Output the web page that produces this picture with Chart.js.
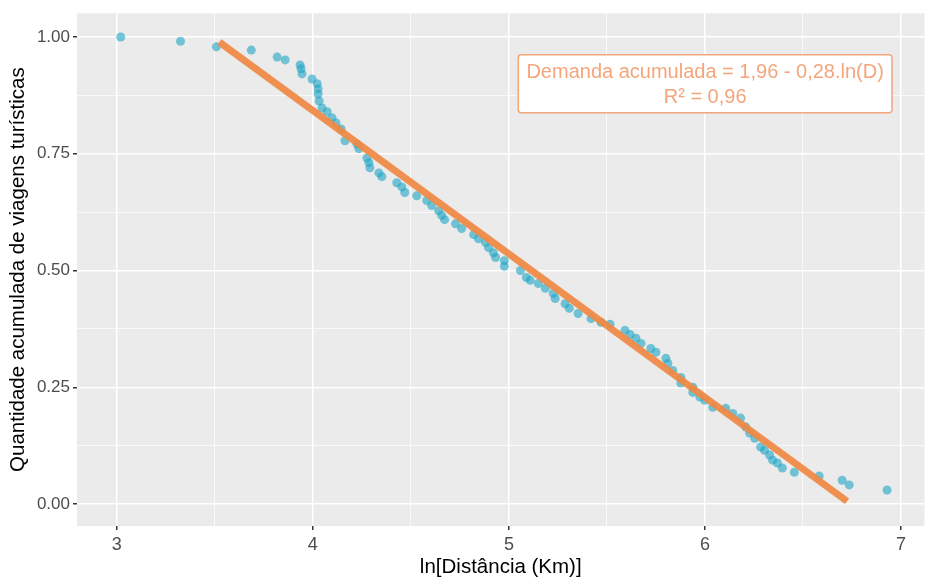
<!DOCTYPE html>
<html>
<head>
<meta charset="utf-8">
<script src="https://cdn.jsdelivr.net/npm/chart.js@4"></script>
<style>
  html, body { margin: 0; padding: 0; background: #fff; }
  #wrap { width: 929px; height: 580px; }
</style>
</head>
<body>
<div id="wrap"><canvas id="myChart" width="929" height="580"></canvas></div>
<script>
// ln(distance) and cumulative demand
const lnDist = [3.020, 3.325, 3.508, 3.686, 3.818, 3.859, 3.935, 3.940, 3.945, 3.996,
  4.022, 4.027, 4.027, 4.032, 4.047, 4.073, 4.098, 4.118, 4.144, 4.164,
  4.225, 4.235, 4.276, 4.286, 4.291, 4.337, 4.352, 4.428, 4.454, 4.469,
  4.530, 4.581, 4.606, 4.642, 4.657, 4.672, 4.728, 4.759, 4.820, 4.845,
  4.881, 4.896, 4.921, 4.932, 4.977, 4.977, 5.059, 5.089, 5.109, 5.150,
  5.186, 5.226, 5.236, 5.287, 5.308, 5.353, 5.419, 5.470, 5.516, 5.592,
  5.618, 5.648, 5.674, 5.724, 5.750, 5.801, 5.811, 5.836, 5.877, 5.877,
  5.938, 5.938, 5.974, 5.999, 6.040, 6.106, 6.142, 6.182, 6.208, 6.228,
  6.254, 6.284, 6.304, 6.330, 6.345, 6.370, 6.395, 6.456, 6.583, 6.700,
  6.736, 6.929];
const cumDemand = [1.000, 0.991, 0.979, 0.972, 0.957, 0.951, 0.940, 0.932, 0.921, 0.910,
  0.900, 0.889, 0.878, 0.863, 0.848, 0.840, 0.827, 0.816, 0.803, 0.778,
  0.771, 0.761, 0.741, 0.731, 0.720, 0.709, 0.701, 0.688, 0.679, 0.667,
  0.660, 0.650, 0.639, 0.628, 0.618, 0.609, 0.600, 0.590, 0.577, 0.568,
  0.560, 0.549, 0.538, 0.528, 0.521, 0.509, 0.500, 0.485, 0.479, 0.472,
  0.462, 0.451, 0.440, 0.429, 0.419, 0.408, 0.397, 0.389, 0.385, 0.372,
  0.363, 0.355, 0.344, 0.333, 0.325, 0.312, 0.301, 0.286, 0.271, 0.259,
  0.250, 0.239, 0.229, 0.222, 0.207, 0.205, 0.194, 0.184, 0.165, 0.152,
  0.141, 0.122, 0.115, 0.105, 0.094, 0.088, 0.077, 0.068, 0.060, 0.051,
  0.041, 0.030];

// fitted line ends
const fitX = [3.523, 6.725];
const fitY = [0.989, 0.006];

const xTicks = [3, 3.5, 4, 4.5, 5, 5.5, 6, 6.5, 7];
const yTicks = [0, 0.125, 0.25, 0.375, 0.5, 0.625, 0.75, 0.875, 1];
const eqLines = ['Demanda acumulada = 1,96 - 0,28.ln(D)', 'R² = 0,96'];

const FONT = '"Liberation Sans", Arial, sans-serif';
const isMajorX = v => Math.abs(v - Math.round(v)) < 1e-9;
const isMajorY = v => Math.abs(v * 4 - Math.round(v * 4)) < 1e-9;

const panelBg = {
  id: 'panelBg',
  beforeDraw(chart) {
    const a = chart.chartArea, c = chart.ctx;
    c.save();
    c.fillStyle = '#EBEBEB';
    c.fillRect(a.left, a.top, a.right - a.left, a.bottom - a.top);
    c.restore();
  }
};

const eqBox = {
  id: 'eqBox',
  afterDraw(chart) {
    const c = chart.ctx, sx = chart.scales.x, sy = chart.scales.y;
    const l = sx.getPixelForValue(5.048), r = sx.getPixelForValue(6.954);
    const t = sy.getPixelForValue(0.962), b = sy.getPixelForValue(0.838);
    c.save();
    c.beginPath();
    c.roundRect(l, t, r - l, b - t, 3);
    c.fillStyle = '#fff';
    c.fill();
    c.strokeStyle = '#F4A57A';
    c.lineWidth = 1.5;
    c.stroke();
    c.fillStyle = '#F4A57A';
    c.font = '20px ' + FONT;
    c.textAlign = 'center';
    c.textBaseline = 'middle';
    const cx = (l + r) / 2;
    c.fillText(eqLines[0], cx, sy.getPixelForValue(0.925));
    c.fillText(eqLines[1], cx, sy.getPixelForValue(0.870));
    c.restore();
  }
};

const ctx = document.getElementById('myChart');
new Chart(ctx, {
  type: 'scatter',
  data: {
    datasets: [{
      type: 'line',
      data: fitX.map((x, i) => ({ x: x, y: fitY[i] })),
      borderColor: 'rgba(240,136,66,0.92)',
      borderWidth: 7,
      pointRadius: 0,
      borderCapStyle: 'butt',
      order: 0
    }, {
      data: lnDist.map((x, i) => ({ x: x, y: cumDemand[i] })),
      backgroundColor: 'rgba(30,165,196,0.6)',
      borderColor: 'rgba(30,165,196,0.6)',
      borderWidth: 0,
      pointRadius: 4.5,
      order: 1
    }]
  },
  options: {
    responsive: false,
    animation: false,
    devicePixelRatio: 1,
    layout: { padding: { top: 12, right: 1, left: 0, bottom: 0 } },
    plugins: { legend: { display: false }, tooltip: { enabled: false } },
    scales: {
      x: {
        type: 'linear',
        min: 2.797, max: 7.12,
        afterBuildTicks: s => { s.ticks = xTicks.map(v => ({ value: v })); },
        afterFit: s => { s.height = 54; },
        border: { display: false },
        grid: {
          color: '#fff',
          lineWidth: c => isMajorX(c.tick.value) ? 1.5 : 0.7,
          tickColor: c => isMajorX(c.tick.value) ? '#333' : 'rgba(0,0,0,0)',
          tickLength: 4
        },
        ticks: {
          callback: v => isMajorX(v) ? String(v) : '',
          color: '#4D4D4D',
          font: { family: FONT, size: 18 },
          padding: 4,
          maxRotation: 0,
          autoSkip: false
        },
        title: {
          display: true,
          text: 'ln[Distância (Km)]',
          color: '#000',
          font: { family: FONT, size: 20.5 },
          padding: { top: 0, bottom: 0 }
        }
      },
      y: {
        type: 'linear',
        min: -0.047, max: 1.051,
        afterBuildTicks: s => { s.ticks = yTicks.map(v => ({ value: v })); },
        afterFit: s => { s.width = 77; },
        border: { display: false },
        grid: {
          color: '#fff',
          lineWidth: c => isMajorY(c.tick.value) ? 1.5 : 0.7,
          tickColor: c => isMajorY(c.tick.value) ? '#333' : 'rgba(0,0,0,0)',
          tickLength: 4
        },
        ticks: {
          callback: v => isMajorY(v) ? v.toFixed(2) : '',
          color: '#4D4D4D',
          font: { family: FONT, size: 17 },
          padding: 3,
          autoSkip: false
        },
        title: {
          display: true,
          text: 'Quantidade acumulada de viagens turísticas',
          color: '#000',
          font: { family: FONT, size: 20.5 },
          padding: { top: 6, bottom: 0 }
        }
      }
    }
  },
  plugins: [panelBg, eqBox]
});
</script>
</body>
</html>
